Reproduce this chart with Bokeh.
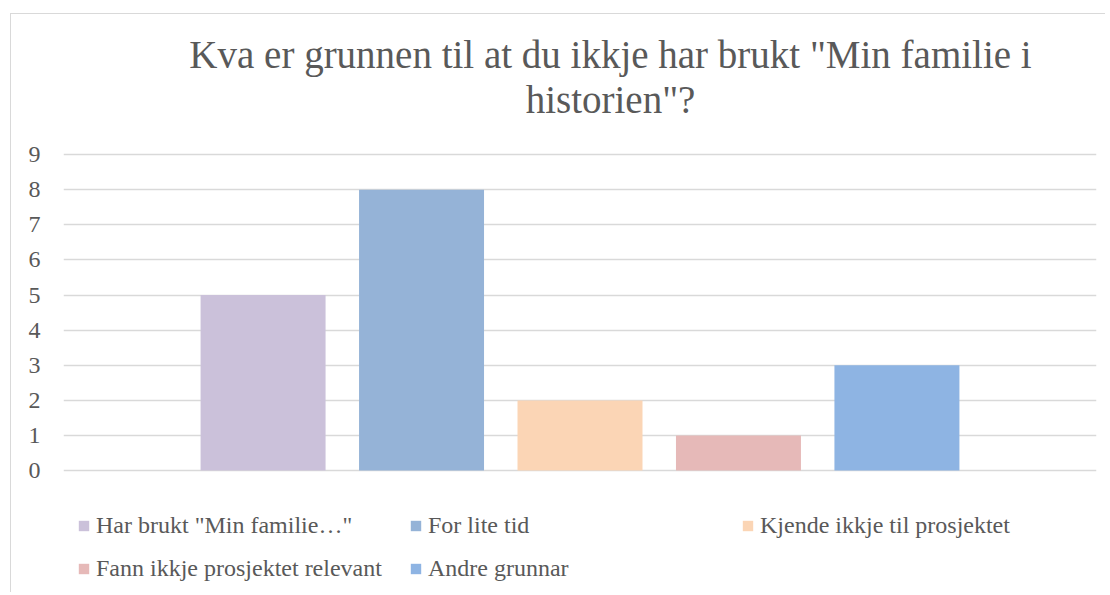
from bokeh.plotting import figure
from bokeh.models import ColumnDataSource, Range1d, FactorRange, Legend, LegendItem, Label, FixedTicker
from bokeh.transform import dodge
from bokeh.embed import file_html
from bokeh.resources import INLINE

# ---- data ----
title_lines = ['Kva er grunnen til at du ikkje har brukt "Min familie i', 'historien"?']
series = ['Har brukt "Min familie…"', 'For lite tid', 'Kjende ikkje til prosjektet',
          'Fann ikkje prosjektet relevant', 'Andre grunnar']
counts = [5, 8, 2, 1, 3]
colors = ['#CBC1DA', '#95B3D7', '#FBD5B5', '#E6B9B8', '#8EB4E3']
category = ['svar']
y_ticks = [0, 1, 2, 3, 4, 5, 6, 7, 8, 9]

FONT = 'Liberation Serif'
TXT = '#595959'

# The frame covers the whole canvas height (the area outside 0..9 is blank),
# so that the title and legend can be placed freely inside it.
p = figure(width=1095, height=579, output_backend="svg", toolbar_location=None,
           x_range=FactorRange(factors=category, range_padding=0),
           y_range=Range1d(-3.5, 12.99), x_axis_location=None,
           min_border_left=52, min_border_right=10, min_border_top=0, min_border_bottom=0)
p.styles = {"margin-left": "10px", "margin-top": "13px",
            "border-left": "1px solid #d9d9d9", "border-top": "1px solid #d9d9d9"}
p.outline_line_color = None
p.background_fill_color = 'white'
p.border_fill_color = 'white'

for txt, ys in zip(title_lines, [539, 494]):
    p.add_layout(Label(x=547, y=ys, x_units='screen', y_units='screen', text=txt,
                       text_align='center', text_baseline='alphabetic',
                       text_font=FONT, text_font_size='39px', text_color=TXT))

bar_w = 0.121
step = 0.1534
renderers = []
for i, (name, c, col) in enumerate(zip(series, counts, colors)):
    src = ColumnDataSource(dict(x=category, top=[c]))
    r = p.vbar(x=dodge('x', (i - 2) * step, range=p.x_range), top='top', bottom=0,
               width=bar_w, source=src, fill_color=col, line_color=None)
    renderers.append((name, r))

p.xgrid.visible = False
p.ygrid.grid_line_color = '#d9d9d9'
p.ygrid.grid_line_width = 1.5
p.ygrid.ticker = FixedTicker(ticks=y_ticks)
p.yaxis.ticker = FixedTicker(ticks=y_ticks)
p.yaxis.axis_line_color = None
p.yaxis.major_tick_line_color = None
p.yaxis.minor_tick_line_color = None
p.yaxis.major_tick_out = 0
p.yaxis.major_tick_in = 0
p.yaxis.major_label_standoff = 23
p.yaxis.major_label_text_font = FONT
p.yaxis.major_label_text_font_size = '24px'
p.yaxis.major_label_text_color = TXT

legend = Legend(items=[LegendItem(label=n, renderers=[r]) for n, r in renderers],
                location=(14, 3.5), orientation='horizontal', ncols=3,
                glyph_width=13, glyph_height=13, label_standoff=6, label_width=313,
                label_height=43, spacing=0, padding=0, margin=0,
                border_line_color=None, background_fill_alpha=0,
                label_text_font=FONT, label_text_font_size='24px', label_text_color=TXT)
p.add_layout(legend, 'center')

open("out.html", "w").write(file_html(p, INLINE))
